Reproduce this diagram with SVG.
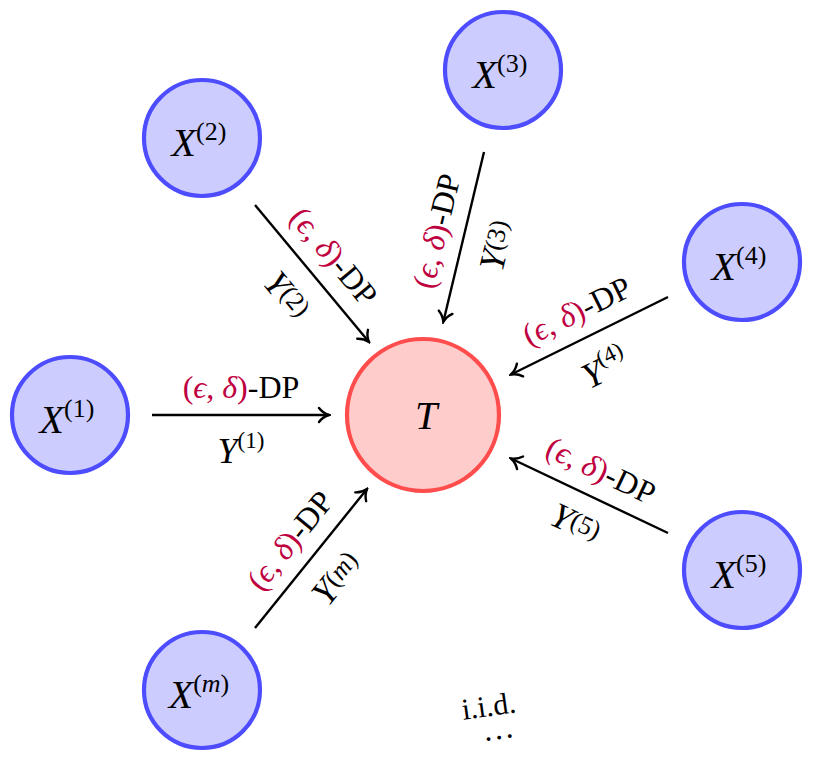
<svg xmlns="http://www.w3.org/2000/svg" width="816" height="767" viewBox="0 0 816 767">
<style>
.xn circle{fill:#ccccff;stroke:#4d4dff;stroke-width:4.2}
.tn circle{fill:#ffcccc;stroke:#ff4d4d;stroke-width:4.2}
.m{font-family:"Liberation Serif","DejaVu Serif",serif;font-style:italic;font-size:40px;fill:#000;text-anchor:middle}
.sup{font-style:normal;font-size:26px}
.edge line{stroke:#000;stroke-width:2.4;fill:none}
.dp{font-family:"Liberation Serif","DejaVu Serif",serif;font-size:32px;text-anchor:middle;fill:#000}
.red{fill:#bf0040}
.it{font-style:italic}
.yl{font-family:"Liberation Serif","DejaVu Serif",serif;font-size:36px;font-style:italic;text-anchor:middle;fill:#000}
.ys{font-style:normal;font-size:23px}
.ys2{font-style:normal;font-size:26px}
.iid{font-family:"Liberation Serif","DejaVu Serif",serif;font-size:30px;fill:#000;text-anchor:middle}
</style>
<defs>
<marker id="ah" viewBox="-12 -9 14 18" refX="0" refY="0" markerWidth="14" markerHeight="18" markerUnits="userSpaceOnUse" orient="auto">
<path d="M -10,-7 C -7,-3 -2,-0.6 0,0 C -2,0.6 -7,3 -10,7" fill="none" stroke="#000" stroke-width="2.4" stroke-linecap="round"/>
</marker>
</defs>
<g id="T" class="tn"><circle cx="423" cy="415" r="76"/><text class="m" x="426" y="429">T</text></g>
<g id="X1" class="xn"><circle cx="70" cy="415" r="58"/><text class="m" x="67" y="433">X<tspan class="sup" dy="-16">(1)</tspan></text></g>
<g id="X2" class="xn"><circle cx="202" cy="138" r="58"/><text class="m" x="199" y="156">X<tspan class="sup" dy="-16">(2)</tspan></text></g>
<g id="X3" class="xn"><circle cx="503" cy="70" r="58"/><text class="m" x="500" y="88">X<tspan class="sup" dy="-16">(3)</tspan></text></g>
<g id="X4" class="xn"><circle cx="742" cy="262" r="58"/><text class="m" x="739" y="280">X<tspan class="sup" dy="-16">(4)</tspan></text></g>
<g id="X5" class="xn"><circle cx="742" cy="570" r="58"/><text class="m" x="739" y="588">X<tspan class="sup" dy="-16">(5)</tspan></text></g>
<g id="Xm" class="xn"><circle cx="202" cy="690" r="58"/><text class="m" x="199" y="708">X<tspan class="sup" dy="-16">(<tspan class="it">m</tspan>)</tspan></text></g>
<g id="edges" class="edge">
<line x1="152" y1="415" x2="329" y2="415" marker-end="url(#ah)"/>
<line x1="255" y1="205" x2="369" y2="342" marker-end="url(#ah)"/>
<line x1="484" y1="152" x2="443.3" y2="322" marker-end="url(#ah)"/>
<line x1="668" y1="297" x2="511" y2="374.5" marker-end="url(#ah)"/>
<line x1="668" y1="533" x2="511" y2="458.5" marker-end="url(#ah)"/>
<line x1="255" y1="628" x2="367" y2="489" marker-end="url(#ah)"/>
</g>
<g id="labels">
<g transform="translate(241,415)">
<text class="dp" y="-17"><tspan class="red">(<tspan class="it">ϵ</tspan>, <tspan class="it">δ</tspan>)</tspan>-DP</text>
<text class="yl" y="48">Y<tspan class="ys" dy="-15">(1)</tspan></text>
</g>
<g transform="translate(312.5,274) rotate(50.2)">
<text class="dp" y="-17"><tspan class="red">(<tspan class="it">ϵ</tspan>, <tspan class="it">δ</tspan>)</tspan>-DP</text>
<text class="yl" y="45">Y<tspan class="ys2" dy="-6">(2)</tspan></text>
</g>
<g transform="translate(463.5,237.5) rotate(-76.5)">
<text class="dp" y="-17"><tspan class="red">(<tspan class="it">ϵ</tspan>, <tspan class="it">δ</tspan>)</tspan>-DP</text>
<text class="yl" y="46">Y<tspan class="ys2" dy="-6">(3)</tspan></text>
</g>
<g transform="translate(589,336) rotate(-26.3)">
<text class="dp" y="-17"><tspan class="red">(<tspan class="it">ϵ</tspan>, <tspan class="it">δ</tspan>)</tspan>-DP</text>
<text class="yl" y="48">Y<tspan class="ys" dy="-15">(4)</tspan></text>
</g>
<g transform="translate(589,495.5) rotate(25.4)">
<text class="dp" y="-17"><tspan class="red">(<tspan class="it">ϵ</tspan>, <tspan class="it">δ</tspan>)</tspan>-DP</text>
<text class="yl" y="43">Y<tspan class="ys2" dy="-6">(5)</tspan></text>
</g>
<g transform="translate(311.5,558) rotate(-51.1)">
<text class="dp" y="-17"><tspan class="red">(<tspan class="it">ϵ</tspan>, <tspan class="it">δ</tspan>)</tspan>-DP</text>
<text class="yl" y="44">Y<tspan class="ys2" dy="-6">(<tspan class="it">m</tspan>)</tspan></text>
</g>
<g transform="translate(490,716) rotate(-8)">
<text class="iid" y="0">i.i.d.</text>
<text class="iid" x="6" y="24" style="font-size:32px">…</text>
</g>
</g>
</svg>
